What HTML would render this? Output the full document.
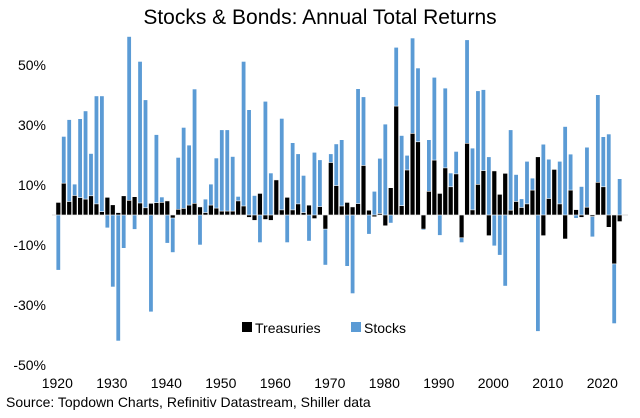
<!DOCTYPE html>
<html><head><meta charset="utf-8"><style>
body{margin:0;background:#fff;}
svg text{font-family:"Liberation Sans",Arial,sans-serif;}
</style></head><body>
<svg id="chart" width="640" height="413" viewBox="0 0 640 413">
<text x="320" y="24" text-anchor="middle" font-size="21" fill="#000">Stocks &amp; Bonds: Annual Total Returns</text>
<g id="yaxis"></g>
<g id="xaxis"></g>
<line x1="52" x2="628" y1="215" y2="215" stroke="#d9d9d9" stroke-width="1"/>
<g id="bars"></g>
<g>
<g><rect x="242" y="322" width="10" height="10" fill="#000"/><text x="255" y="333" font-size="14">Treasuries</text></g>
<g><rect x="351" y="322" width="10" height="10" fill="#5b9bd5"/><text x="364" y="333" font-size="14">Stocks</text></g>
</g>
<text x="6" y="407" font-size="14">Source: Topdown Charts, Refinitiv Datastream, Shiller data</text>
</svg>
<script>
const firstYear = 1920;
const stocks = [-18.3,26.1,31.7,10.2,32,34.6,20.4,39.6,39.6,-4.2,-23.9,-41.9,-11,59.4,-4.7,51.1,38.3,-32.2,26.7,5.9,-9.3,-12.4,19.1,29.1,23.2,41.9,
-9.9,5.2,10.2,18.9,28.3,28.3,19.4,6.1,51.1,35,6.4,-9.1,37.8,13.9,0.2,32.1,-9.1,24,20.3,13.1,-8.6,20.8,18.3,-16.6,
20.3,23.6,25,-17,-26.1,42,39.3,-6.3,7.8,18.8,30.2,-2.6,55.8,26.4,19.8,58.9,48.9,-5,25,45.8,-6.7,42.2,13.9,21.1,-9.1,58.3,22.2,
41.3,41.7,19.3,-10.2,-13.3,-23.6,28.3,13.4,5.3,17.8,12.2,-38.7,23.5,18.5,2,17.8,29.4,20.2,-1,9.4,22.5,-7.2,40,26,26.9,-36.1,12];
const treasuries = [4.2,10.6,4.5,6.5,5.8,5.3,6.4,3.7,1.1,5.9,3.4,0.8,6.4,4.9,6.1,4,2.4,3.9,4.1,4.2,4.7,-1,1.9,2.2,3.3,3.9,
2.7,0.8,3.3,2.3,1.3,1.3,1.3,4.7,3,-0.8,-1.8,7.2,-1.5,-1.8,11.7,1.7,5.9,1.7,3.7,0.8,3.3,-1.2,2.8,-4.7,
17.5,9.8,3,4.2,2.7,3.8,16.5,1.6,-0.6,0.5,-3.6,9.1,36.3,3.1,15,27.2,24.4,-4.7,7.9,18.3,7.2,15.7,9.4,13.7,-7.6,23.9,1.7,
10.2,14.8,-6.9,14.7,6.9,13.9,1.6,4.5,2.5,3.7,8.3,19.4,-6.9,5.5,15.2,3.7,-8,8.3,1.8,-0.8,2.6,-0.5,10.9,9.4,-4.1,-16.3,-2.2];
const yTicks = [50,30,10,-10,-30,-50];
const xTicks = [1920,1930,1940,1950,1960,1970,1980,1990,2000,2010,2020];

const NS = "http://www.w3.org/2000/svg";
function xPos(year){ return 58.3 + (year-firstYear)*5.45; }
function yPos(v){ return 215 - v*3; }
function mk(tag, attrs){ const e=document.createElementNS(NS,tag); for(const k in attrs) e.setAttribute(k,attrs[k]); return e; }

const ya=document.getElementById('yaxis');
yTicks.forEach(t=>{
  const e=mk('text',{x:46,y:yPos(t)+5,'text-anchor':'end','font-size':14});
  e.textContent=t+'%';
  
  
  ya.appendChild(e);
});
const xa=document.getElementById('xaxis');
xTicks.forEach(t=>{
  const e=mk('text',{x:xPos(t)-1,y:388,'text-anchor':'middle','font-size':14});
  e.textContent=t;
  
  
  xa.appendChild(e);
});
const g=document.getElementById('bars');
stocks.forEach((v,i)=>{
  const x=xPos(firstYear+i);
  const r=mk('rect',{x:x-1.9,y:Math.min(yPos(v),yPos(0)),width:3.8,height:Math.abs(v*3),fill:'#5b9bd5'});
  
  
  g.appendChild(r);
});
treasuries.forEach((v,i)=>{
  const x=xPos(firstYear+i);
  const r=mk('rect',{x:x-2.4,y:Math.min(yPos(v),yPos(0)),width:4.8,height:Math.abs(v*3),fill:'#000',stroke:'#fff','stroke-width':0.6});
  
  
  g.appendChild(r);
});
</script>
</body></html>
